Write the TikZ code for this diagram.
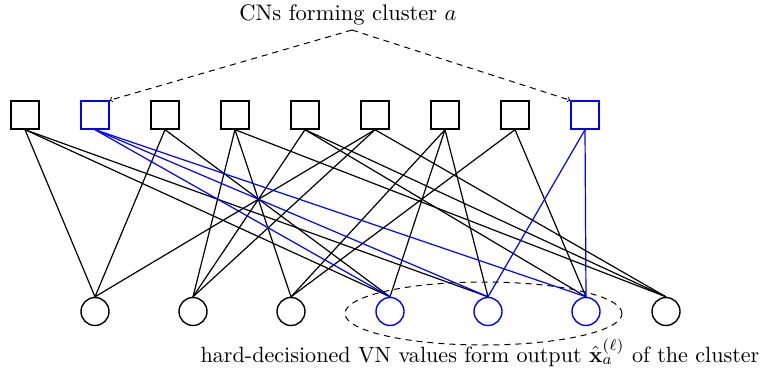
\documentclass[tikz,border=0pt]{standalone}
\usepackage{amsmath,graphicx}
\usetikzlibrary{shapes.geometric}
\begin{document}
\begin{tikzpicture}[x=1pt,y=-1pt,
  cn/.style={draw=black,line width=1.4pt,minimum size=28pt,inner sep=0pt,rectangle},
  cnb/.style={cn,draw=blue},
  vn/.style={draw=black,line width=1.4pt,circle,minimum size=28pt,inner sep=0pt},
  vnb/.style={vn,draw=blue},
  edge/.style={line width=1.2pt,black},
  edgeb/.style={line width=1.2pt,blue},
  lbl/.style={inner sep=0pt},
  pointer/.style={dashed,line width=1pt,->,dash pattern=on 6pt off 5pt}]
\useasboundingbox (0,0) rectangle (763,377);
% check nodes
\node[cn]  (c1) at (25,115) {};
\node[cnb] (c2) at (95,115) {};
\node[cn]  (c3) at (165,115) {};
\node[cn]  (c4) at (235,115) {};
\node[cn]  (c5) at (305,115) {};
\node[cn]  (c6) at (375,115) {};
\node[cn]  (c7) at (445,115) {};
\node[cn]  (c8) at (515,115) {};
\node[cnb] (c9) at (585,115) {};
% variable nodes
\node[vn]  (v1) at (95,311.5) {};
\node[vn]  (v2) at (193,311.5) {};
\node[vn]  (v3) at (291,311.5) {};
\node[vnb] (v4) at (390,311.5) {};
\node[vnb] (v5) at (488,311.5) {};
\node[vnb] (v6) at (586,311.5) {};
\node[vn]  (v7) at (666,311.5) {};
% edges
\foreach \c/\v in {c1/v1,c1/v4,c1/v5,c3/v1,c3/v4,c4/v2,c4/v3,c4/v7,c5/v2,c5/v6,c5/v7,c6/v1,c6/v2,c6/v7,c7/v3,c7/v4,c7/v5,c8/v3,c8/v6}
  \draw[edge] (\c.south) -- (\v.north);
\foreach \c/\v in {c2/v4,c2/v5,c2/v6,c9/v5,c9/v6}
  \draw[edgeb] (\c.south) -- (\v.north);
% cluster ellipse
\node[draw,dashed,line width=1pt,dash pattern=on 6pt off 5pt,ellipse,minimum width=277pt,minimum height=63pt,inner sep=0pt] (cl) at (483.5,313.5) {};
% labels
\node[lbl,anchor=base] (top) at (348,21) {\scalebox{2.25}{CNs forming cluster $a$}};
\coordinate (apex) at (352,30);
\draw[pointer] (apex) -- (c2.north east);
\draw[pointer] (apex) -- (c9.north west);
\node[lbl,anchor=base] (bot) at (480,362) {\scalebox{2.21}{hard-decisioned VN values form output $\hat{\mathbf{x}}_a^{(\ell)}$ of the cluster}};
\end{tikzpicture}
\end{document}
